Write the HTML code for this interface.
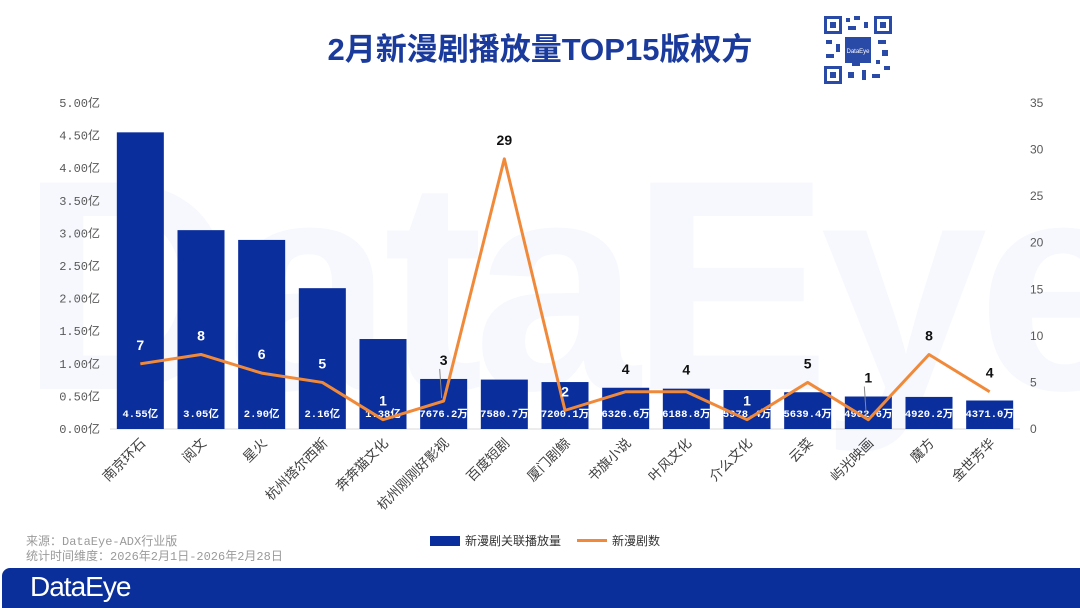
<!DOCTYPE html>
<html><head><meta charset="utf-8"><style>
body{margin:0;width:1080px;height:608px;overflow:hidden;background:#fff;font-family:"Liberation Sans","Noto Sans CJK SC",sans-serif;position:relative}
.t{position:absolute}
</style></head><body>
<div class="t" style="left:20px;top:135px;font-size:300px;font-weight:bold;color:#f6f8fd;letter-spacing:-10px;line-height:1">DataEye</div>
<div class="t" style="left:0;width:1080px;top:24px;text-align:center;font-size:31px;font-weight:bold;color:#1a3a9c;font-family:'Liberation Sans','Noto Sans CJK SC',sans-serif">2月新漫剧播放量TOP15版权方</div>
<svg class="t" style="left:822px;top:14px" width="72" height="72" viewBox="0 0 72 72">
<rect width="72" height="72" fill="#fff"/>
<g fill="#2a4aa8">
<rect x="2" y="2" width="18" height="18"/><rect x="52" y="2" width="18" height="18"/><rect x="2" y="52" width="18" height="18"/>
<rect x="24" y="4" width="4" height="4"/><rect x="32" y="2" width="6" height="4"/><rect x="42" y="8" width="4" height="6"/><rect x="26" y="12" width="8" height="4"/>
<rect x="4" y="26" width="6" height="4"/><rect x="14" y="30" width="4" height="8"/><rect x="56" y="26" width="8" height="4"/><rect x="60" y="36" width="6" height="6"/>
<rect x="26" y="58" width="6" height="6"/><rect x="40" y="56" width="4" height="10"/><rect x="50" y="60" width="8" height="4"/><rect x="62" y="52" width="6" height="4"/>
<rect x="4" y="40" width="8" height="4"/><rect x="54" y="46" width="4" height="4"/><rect x="30" y="48" width="8" height="4"/></g>
<g fill="#fff"><rect x="5" y="5" width="12" height="12"/><rect x="55" y="5" width="12" height="12"/><rect x="5" y="55" width="12" height="12"/></g>
<g fill="#2a4aa8"><rect x="8" y="8" width="6" height="6"/><rect x="58" y="8" width="6" height="6"/><rect x="8" y="58" width="6" height="6"/>
<rect x="23" y="23" width="26" height="26"/></g>
<text x="36" y="39" font-size="6" fill="#fff" text-anchor="middle" font-family="Liberation Sans">DataEye</text>
</svg>
<svg id="chart" class="t" style="left:0;top:0" width="1080" height="608"></svg>
<div class="t" style="left:26px;top:535px;font-size:12px;color:#9a9a9a;line-height:15px;font-family:'Liberation Mono','Noto Sans CJK SC',monospace">来源：DataEye-ADX行业版<br>统计时间维度：2026年2月1日-2026年2月28日</div>
<div class="t" style="left:430px;top:532px;font-size:12px;color:#333"><span style="display:inline-block;width:30px;height:10px;background:#0a2e9c;vertical-align:-1px;margin-right:5px"></span>新漫剧关联播放量</div>
<div class="t" style="left:577px;top:532px;font-size:12px;color:#333"><span style="display:inline-block;width:30px;height:3px;background:#f08a3a;vertical-align:3px;margin-right:5px"></span>新漫剧数</div>
<div class="t" style="left:2px;top:568px;width:1078px;height:40px;background:#0a2f9b;border-radius:8px 0 0 0"></div>
<div class="t" style="left:30px;top:571px;font-size:28px;color:#fff;letter-spacing:-1px">DataEye</div>
<script>
const categories=["南京环石","阅文","星火","杭州塔尔西斯","奔奔猫文化","杭州刚刚好影视","百度短剧","厦门剧鲸","书旗小说","叶风文化","介么文化","云菜","屿光映画","魔方","金世芳华"];
const plays=[4.55,3.05,2.90,2.16,1.38,0.76762,0.75807,0.72001,0.63266,0.61888,0.59784,0.56394,0.49826,0.49202,0.43710];
const playLabels=["4.55亿","3.05亿","2.90亿","2.16亿","1.38亿","7676.2万","7580.7万","7200.1万","6326.6万","6188.8万","5978.4万","5639.4万","4982.6万","4920.2万","4371.0万"];
const counts=[7,8,6,5,1,3,29,2,4,4,1,5,1,8,4];
const leftTicks=[0,0.5,1,1.5,2,2.5,3,3.5,4,4.5,5];
const rightTicks=[0,5,10,15,20,25,30,35];
const NS="http://www.w3.org/2000/svg",svg=document.getElementById('chart');
const x0=110,x1=1020,y0=429,y1=103,step=(x1-x0)/categories.length,bw=47;
const cx=i=>x0+step*(i+0.5);
const yL=v=>y0-(v/5)*(y0-y1);
const yR=v=>y0-(v/35)*(y0-y1);
function el(t,a,txt){const e=document.createElementNS(NS,t);for(const k in a)e.setAttribute(k,a[k]);if(txt!=null)e.textContent=txt;svg.appendChild(e);return e;}
const ax=el('line',{x1:x0,x2:x1,y1:y0,y2:y0,stroke:'#d9d9d9'});

leftTicks.forEach(v=>{const t=el('text',{x:100,y:yL(v)+4,'text-anchor':'end','font-size':12,fill:'#595959','font-family':'Liberation Mono,Noto Sans CJK SC,monospace'},v.toFixed(2)+'亿');
});
rightTicks.forEach(v=>{const t=el('text',{x:1030,y:yR(v)+4,'font-size':12,fill:'#595959'},String(v));
});
plays.forEach((v,i)=>{const r=el('rect',{x:cx(i)-bw/2,y:yL(v),width:bw,height:y0-yL(v),fill:'#0a2e9c'});

const t=el('text',{x:cx(i),y:y0-12,'text-anchor':'middle','font-size':10.5,fill:'#fff','font-weight':'bold','font-family':'Liberation Mono,Noto Sans CJK SC,monospace'},playLabels[i]);

const c=el('text',{'text-anchor':'end','font-size':13.5,fill:'#404040',transform:`translate(${cx(i)+6},${y0+15}) rotate(-45)`},categories[i]);
});
const ln=el('polyline',{points:counts.map((v,i)=>cx(i)+','+yR(v)).join(' '),fill:'none',stroke:'#f08a3a','stroke-width':3,'stroke-linejoin':'round'});

counts.forEach((v,i)=>{const py=yR(v),top=yL(plays[i]);let y=py-14,fill='#fff';
if(py-top<0){fill='#111';}
else if(py-top<10){y=top-14;fill='#111';}
else if(py-top<25){y=top-14;fill='#111';
const l=el('line',{x1:cx(i)-4,y1:y+4,x2:cx(i)-2,y2:py-3,stroke:'#888','stroke-width':1});
}
const t=el('text',{x:cx(i),y:y,'text-anchor':'middle','font-size':14,'font-weight':'bold',fill:fill},String(v));
});
</script>
</body></html>
